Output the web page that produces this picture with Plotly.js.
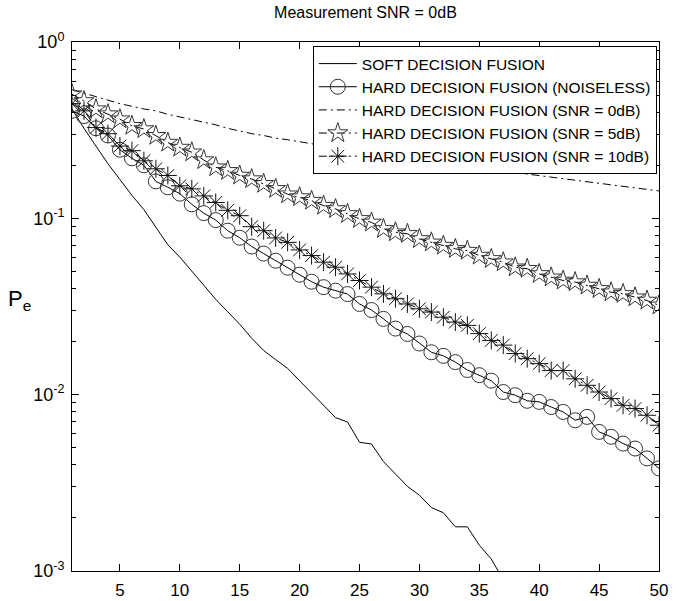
<!DOCTYPE html>
<html>
<head>
<meta charset="utf-8">
<script src="https://cdn.plot.ly/plotly-3.0.1.min.js"></script>
<style>html,body{margin:0;padding:0;background:#fff;}#chart{width:678px;height:601px;}</style>
</head>
<body>
<div id="chart"></div>
<script>
const N = [1,2,3,4,5,6,7,8,9,10,11,12,13,14,15,16,17,18,19,20,21,22,23,24,25,26,27,28,29,30,31,32,33,34,35,36,37,38,39,40,41,42,43,44,45,46,47,48,49,50];
const softN = N.slice(0, 37);
const softFusion = [0.417,0.324,0.257,0.204,0.166,0.135,0.112,0.0891,0.0708,0.0603,0.0501,0.0417,0.0347,0.0295,0.0251,0.0209,0.0178,0.0158,0.0141,0.0120,0.0102,0.00871,0.00741,0.0070,0.00537,0.00525,0.00417,0.00355,0.00302,0.00269,0.00229,0.00214,0.00178,0.00178,0.0014,0.00117,0.00089];
const hardNoiseless = [0.407,0.380,0.324,0.295,0.245,0.219,0.200,0.162,0.150,0.138,0.120,0.107,0.0977,0.0851,0.0776,0.0692,0.0631,0.0575,0.0525,0.0479,0.0437,0.0407,0.0389,0.0372,0.0327,0.0302,0.0269,0.0237,0.0221,0.0195,0.0174,0.0166,0.0153,0.0138,0.0129,0.0120,0.01035,0.00993,0.00923,0.0091,0.00851,0.00798,0.00716,0.00748,0.00615,0.00577,0.00528,0.00495,0.00435,0.00382];
const hardSnr0 = [0.537,0.513,0.49,0.468,0.447,0.432,0.417,0.407,0.389,0.376,0.363,0.351,0.339,0.324,0.313,0.302,0.295,0.285,0.279,0.271,0.264,0.258,0.251,0.245,0.24,0.236,0.231,0.225,0.22,0.215,0.21,0.205,0.201,0.197,0.193,0.189,0.185,0.182,0.178,0.175,0.172,0.168,0.165,0.162,0.158,0.155,0.152,0.149,0.146,0.143];
const hardSnr5 = [0.506,0.463,0.416,0.39,0.365,0.335,0.321,0.294,0.269,0.252,0.237,0.214,0.195,0.186,0.175,0.167,0.157,0.147,0.137,0.132,0.126,0.118,0.113,0.106,0.0993,0.0948,0.0871,0.0834,0.0817,0.0764,0.0731,0.07,0.0671,0.0656,0.0615,0.0589,0.0564,0.0528,0.0518,0.0484,0.0463,0.0444,0.0435,0.0416,0.0398,0.0381,0.0373,0.0357,0.0342,0.0321];
const hardSnr10 = [0.447,0.407,0.327,0.302,0.257,0.242,0.212,0.191,0.175,0.153,0.147,0.134,0.123,0.111,0.1035,0.0897,0.0851,0.0774,0.0731,0.0662,0.0615,0.0564,0.0528,0.0484,0.0444,0.0407,0.0373,0.035,0.0327,0.0307,0.0294,0.0275,0.0258,0.0247,0.0222,0.0203,0.0191,0.0171,0.016,0.015,0.0137,0.0137,0.0123,0.0113,0.01035,0.0095,0.0087,0.00834,0.00764,0.00671];
const seriesNames = ['SOFT DECISION FUSION','HARD DECISION FUSION (NOISELESS)','HARD DECISION FUSION (SNR = 0dB)','HARD DECISION FUSION (SNR = 5dB)','HARD DECISION FUSION (SNR = 10dB)'];
const xTicks = [5,10,15,20,25,30,35,40,45,50];
const yTicks = [0.001,0.01,0.1,1];
const yTickText = ['10<sup>-3</sup>','10<sup>-2</sup>','10<sup>-1</sup>','10<sup>0</sup>'];

// minor tick positions for the log axis (2..9 in each decade)
const yMinor = [];
yTicks.slice(0, 3).forEach(function (d) { for (let k = 2; k <= 9; k++) yMinor.push(d * k); });

const dashDot = '8px,4px,2px,4px';
const mk = '#333';
const traces = [
  {x: softN, y: softFusion, name: seriesNames[0], mode: 'lines', line: {color: '#000', width: 1}},
  {x: N, y: hardNoiseless, name: seriesNames[1], mode: 'lines+markers', line: {color: '#000', width: 1},
   marker: {symbol: 'circle-open', size: 15, color: mk, line: {width: 1, color: mk}}},
  {x: N, y: hardSnr0, name: seriesNames[2], mode: 'lines', line: {color: '#000', width: 1, dash: dashDot}},
  {x: N, y: hardSnr5, name: seriesNames[3], mode: 'lines+markers', line: {color: '#000', width: 1, dash: dashDot},
   marker: {symbol: 'star-open', size: 15, color: mk, line: {width: 1, color: mk}}},
  {x: N, y: hardSnr10, name: seriesNames[4], mode: 'lines+markers', line: {color: '#000', width: 1, dash: dashDot},
   marker: {symbol: 'asterisk-open', size: 15, color: '#111', line: {width: 1, color: '#111'}}},
  // empty helper trace so the minor-tick axis is drawn
  {x: [], y: [], yaxis: 'y2', mode: 'lines', showlegend: false, hoverinfo: 'skip'}
];
const F = 'Liberation Sans, Arial, sans-serif';
const layout = {
  width: 678, height: 601,
  margin: {l: 71.5, r: 18.5, t: 42, b: 30},
  paper_bgcolor: '#fff', plot_bgcolor: '#fff',
  font: {family: F, color: '#000', size: 16},
  title: {text: 'Measurement SNR = 0dB', font: {family: F, size: 16, color: '#000'}, x: 0.539, xanchor: 'center', y: 0.98, yanchor: 'middle'},
  showlegend: true,
  legend: {x: 0.9963, xanchor: 'right', y: 0.9924, yanchor: 'top', bgcolor: '#fff', bordercolor: '#000', borderwidth: 1,
           font: {family: F, size: 15.5, color: '#000'}, itemwidth: 38, tracegroupgap: 0},
  xaxis: {range: [1, 50], tickvals: xTicks, ticks: 'inside', ticklen: 7, tickcolor: '#000', showline: true, linecolor: '#000', linewidth: 1,
          mirror: 'ticks', showgrid: false, zeroline: false, ticklabelstandoff: 4, tickfont: {family: F, size: 17, color: '#000'}},
  yaxis: {type: 'log', range: [-3, 0], tickvals: yTicks, ticktext: yTickText, ticks: 'inside', ticklen: 7, tickwidth: 1, tickcolor: '#000',
          showline: true, linecolor: '#000', linewidth: 1, mirror: 'ticks', showgrid: false, zeroline: false,
          ticklabelstandoff: 3, tickfont: {family: F, size: 18, color: '#000'}},
  yaxis2: {type: 'log', range: [-3, 0], overlaying: 'y', side: 'left', tickmode: 'array', tickvals: yMinor, ticks: 'inside', ticklen: 4,
           tickcolor: '#000', tickwidth: 1, showticklabels: false, showline: false, mirror: 'ticks', showgrid: false, zeroline: false},
  annotations: [{text: 'P<sub>e</sub>', xref: 'paper', yref: 'paper', x: -0.09, y: 0.512, xanchor: 'center', yanchor: 'middle',
                 showarrow: false, font: {family: F, size: 22, color: '#000'}}]
};
Plotly.newPlot('chart', traces, layout, {displayModeBar: false, staticPlot: true});
</script>
</body>
</html>
